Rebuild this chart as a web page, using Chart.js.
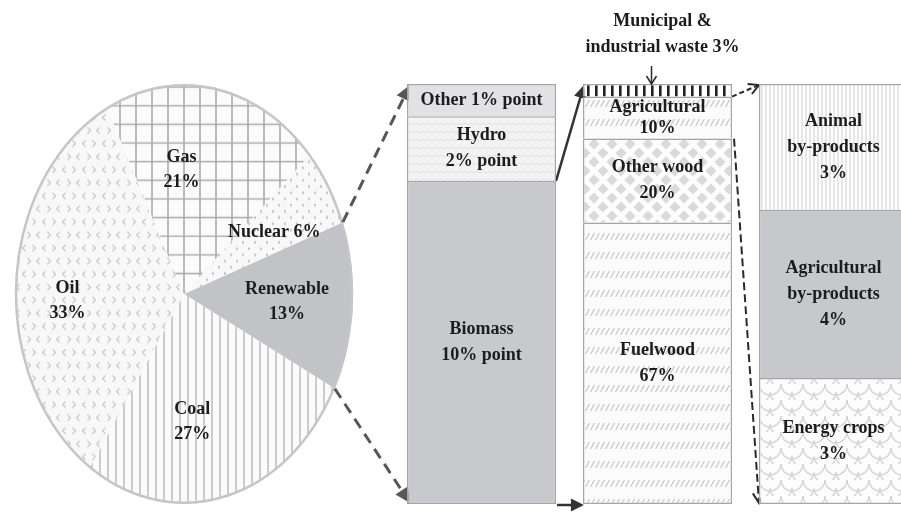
<!DOCTYPE html>
<html>
<head>
<meta charset="utf-8">
<script src="https://cdn.jsdelivr.net/npm/chart.js@4.4.1/dist/chart.umd.min.js"></script>
<style>
  html, body { margin: 0; padding: 0; background: #fff; overflow: hidden; }
  #stage { position: relative; width: 901px; height: 517px; overflow: hidden; }
  #stage canvas { position: absolute; left: 0; top: 0; }
</style>
</head>
<body>
<div id="stage">
  <canvas id="c-pie" width="370" height="517"></canvas>
  <canvas id="c-bars" width="930" height="517"></canvas>
</div>
<script>
// primary energy mix
const sourceNames = ["Renewable", "Coal", "Oil", "Gas", "Nuclear"];
const sourceShares = [13, 27, 33, 21, 6];

// renewable breakdown (percentage points), bottom to top
const renewableNames = ["Biomass", "Hydro", "Other"];
const renewableShares = [10, 2, 1];

// biomass breakdown (%), bottom to top
const biomassNames = ["Fuelwood", "Other wood", "Agricultural", "Municipal &\nindustrial waste"];
const biomassShares = [67, 20, 10, 3];

// agricultural breakdown (%), bottom to top
const agriNames = ["Energy crops", "Agricultural\nby-products", "Animal\nby-products"];
const agriShares = [3, 4, 3];

// names whose value sits on the same line
const inlineNames = ["Nuclear", "Other", "Municipal &\nindustrial waste"];

const PIE_STRETCH = 1.243;
const pieLabelRadius = [0.61, 0.61, 0.69, 0.59, 0.61];
const pieLabelTurn = [0, 10, -6, -12, 2];

const FONT = 'bold 18px "Liberation Serif", "Times New Roman", serif';
const INK = "#1c1c1c";

function labelText(name, value, unit) {
  const sep = inlineNames.includes(name) ? " " : "\n";
  return name + sep + value + unit;
}

function drawLines(ctx, text, x, y, lh) {
  const lines = text.split("\n");
  const top = y - (lines.length - 1) * lh / 2;
  lines.forEach((line, i) => ctx.fillText(line, x, top + i * lh));
}

function tile(w, h, bg, paint) {
  const c = document.createElement("canvas");
  c.width = w;
  c.height = h;
  const g = c.getContext("2d");
  g.fillStyle = bg;
  g.fillRect(0, 0, w, h);
  paint(g);
  return g.createPattern(c, "repeat");
}

// pie fills
const gasFill = tile(16, 15, "#fbfbfb", (g) => {
  g.fillStyle = "#ababab";
  g.fillRect(7.2, 0, 1.6, 15);
  g.fillRect(0, 6.9, 16, 1.2);
});
const oilFill = tile(20, 21, "#f8f8f8", (g) => {
  g.strokeStyle = "#b4b4b4";
  g.lineWidth = 1;
  const chev = (x, y, dir) => {
    g.beginPath();
    g.moveTo(x + 1.6 * dir, y - 2.4);
    g.lineTo(x - 1.6 * dir, y);
    g.lineTo(x + 1.6 * dir, y + 2.4);
    g.stroke();
  };
  chev(4, 5, 1); chev(14, 5, -1); chev(9, 15.5, -1); chev(18, 15.5, 1);
});
const nuclearFill = tile(12, 10, "#f8f8f8", (g) => {
  g.fillStyle = "#acacac";
  [[3, 2.5], [9, 7.5]].forEach(([x, y]) => {
    g.beginPath(); g.arc(x, y, 0.9, 0, Math.PI * 2); g.fill();
  });
});
const coalFill = tile(8, 8, "#fbfbfb", (g) => {
  g.fillStyle = "#acacac";
  g.fillRect(3.4, 0, 1.2, 8);
});
const renewableFill = "#c2c3c6";

// bar fills
const hydroFill = tile(12, 8, "#f3f3f3", (g) => {
  g.strokeStyle = "#e0e0e0";
  g.lineWidth = 1;
  g.beginPath(); g.moveTo(0, 5); g.lineTo(3, 3); g.lineTo(6, 5); g.lineTo(9, 3); g.lineTo(12, 5); g.stroke();
});
const wasteFill = tile(8, 8, "#fdfdfd", (g) => {
  g.fillStyle = "#222";
  g.fillRect(3, 0, 2.6, 8);
});
const slashFill = tile(5, 19, "#fbfbfb", (g) => {
  g.strokeStyle = "#c2c2c2";
  g.lineWidth = 1.1;
  g.beginPath(); g.moveTo(0.6, 12); g.lineTo(4.4, 5); g.stroke();
});
const woodFill = tile(18, 18, "#fdfdfd", (g) => {
  g.fillStyle = "#dadada";
  const dia = (x, y) => {
    g.beginPath(); g.moveTo(x, y - 5.5); g.lineTo(x + 5.5, y); g.lineTo(x, y + 5.5); g.lineTo(x - 5.5, y); g.closePath(); g.fill();
  };
  dia(9, 9); dia(0, 0); dia(18, 0); dia(0, 18); dia(18, 18);
});
const animalFill = tile(4, 4, "#fdfdfd", (g) => {
  g.fillStyle = "#d2d2d2";
  g.fillRect(1.5, 0, 1, 4);
});
const cropFill = tile(22, 16, "#fdfdfd", (g) => {
  g.strokeStyle = "#d2d2d2";
  g.lineWidth = 1.2;
  [[0, 0], [22, 0], [11, 8], [0, 16], [22, 16]].forEach(([x, y]) => {
    g.beginPath(); g.arc(x, y, 11, 0, Math.PI); g.stroke();
  });
});

// pie squashed into an ellipse, outline and labels on top
const ellipsePie = {
  id: "ellipsePie",
  beforeDatasetsDraw(chart) {
    const { x, y } = chart.getDatasetMeta(0).data[0];
    const ctx = chart.ctx;
    ctx.save();
    ctx.translate(x, y);
    ctx.scale(1, PIE_STRETCH);
    ctx.translate(-x, -y);
  },
  afterDatasetsDraw(chart) {
    const ctx = chart.ctx;
    const arcs = chart.getDatasetMeta(0).data;
    const { x, y, outerRadius } = arcs[0];
    ctx.beginPath();
    ctx.arc(x, y, outerRadius - 1, 0, Math.PI * 2);
    ctx.restore();
    ctx.lineWidth = 2.5;
    ctx.strokeStyle = "#c6c6c6";
    ctx.stroke();

    ctx.save();
    ctx.font = FONT;
    ctx.fillStyle = INK;
    ctx.textAlign = "center";
    ctx.textBaseline = "middle";
    arcs.forEach((arc, i) => {
      const a = (arc.startAngle + arc.endAngle) / 2 + pieLabelTurn[i] * Math.PI / 180;
      const r = arc.outerRadius * pieLabelRadius[i];
      drawLines(ctx, labelText(sourceNames[i], sourceShares[i], "%"),
        x + r * Math.cos(a), y + r * Math.sin(a) * PIE_STRETCH, 25);
    });
    ctx.restore();
  }
};

const pieChart = new Chart(document.getElementById("c-pie"), {
  type: "pie",
  data: {
    labels: sourceNames,
    datasets: [{
      data: sourceShares,
      backgroundColor: [renewableFill, coalFill, oilFill, gasFill, nuclearFill],
      borderWidth: 0,
      clip: false
    }]
  },
  options: {
    responsive: false,
    animation: false,
    events: [],
    rotation: 70,
    layout: { padding: { left: 15, right: 17, top: 125, bottom: 54 } },
    plugins: { legend: { display: false }, tooltip: { enabled: false } }
  },
  plugins: [ellipsePie]
});

// stacked bars: one category per breakdown, each on its own hidden value axis
function stackSets(names, values, fills, slot, axis, unit) {
  return names.map((name, i) => {
    const data = [null, null, null];
    data[slot] = values[i];
    return {
      label: name,
      data,
      slot,
      unit,
      yAxisID: axis,
      backgroundColor: fills[i],
      borderColor: "#a5a5a5",
      borderWidth: 1.5,
      borderSkipped: i === 0 ? false : "start"
    };
  });
}

const barSets = [
  ...stackSets(renewableNames, renewableShares, ["#c8c9cc", hydroFill, "#e2e2e5"], 0, "yRen", "% point"),
  ...stackSets(biomassNames, biomassShares, [slashFill, woodFill, slashFill, wasteFill], 1, "yBio", "%"),
  ...stackSets(agriNames, agriShares, [cropFill, "#c7c8cb", animalFill], 2, "yAgr", "%")
];

const sum = (arr) => arr.reduce((s, v) => s + v, 0);

function piece(chart, name) {
  const i = chart.data.datasets.findIndex((ds) => ds.label === name);
  return chart.getDatasetMeta(i).data[chart.data.datasets[i].slot];
}

function column(chart, slot) {
  const els = chart.data.datasets
    .map((ds, i) => (ds.slot === slot ? chart.getDatasetMeta(i).data[slot] : null))
    .filter(Boolean);
  const x = els[0].x;
  const w = els[0].width;
  return {
    x,
    left: x - w / 2,
    right: x + w / 2,
    top: Math.min(...els.map((e) => e.y)),
    bottom: Math.max(...els.map((e) => e.base))
  };
}

function arrow(ctx, x1, y1, x2, y2, style) {
  const ang = Math.atan2(y2 - y1, x2 - x1);
  const len = style.head || 12;
  const half = style.half || 6;
  const filled = style.filled;
  const ex = filled ? x2 - Math.cos(ang) * len * 0.8 : x2;
  const ey = filled ? y2 - Math.sin(ang) * len * 0.8 : y2;
  ctx.save();
  ctx.strokeStyle = style.color;
  ctx.fillStyle = style.color;
  ctx.lineWidth = style.width;
  ctx.setLineDash(style.dash || []);
  ctx.beginPath();
  ctx.moveTo(x1, y1);
  ctx.lineTo(ex, ey);
  ctx.stroke();
  ctx.setLineDash([]);
  const bx = x2 - Math.cos(ang) * len;
  const by = y2 - Math.sin(ang) * len;
  const px = -Math.sin(ang) * half;
  const py = Math.cos(ang) * half;
  ctx.beginPath();
  ctx.moveTo(bx + px, by + py);
  ctx.lineTo(x2, y2);
  ctx.lineTo(bx - px, by - py);
  if (filled) {
    ctx.closePath();
    ctx.fill();
  } else {
    ctx.lineWidth = style.width;
    ctx.stroke();
  }
  ctx.restore();
}

const barNotes = {
  id: "barNotes",
  beforeDatasetsDraw(chart) {
    const ctx = chart.ctx;
    const ren = pieChart.getDatasetMeta(0).data[0];
    const edge = (a) => [ren.x + ren.outerRadius * Math.cos(a), ren.y + ren.outerRadius * Math.sin(a) * PIE_STRETCH];
    const c0 = column(chart, 0);
    const c1 = column(chart, 1);
    const c2 = column(chart, 2);
    const biomass = piece(chart, "Biomass");
    const agri = piece(chart, "Agricultural");

    const wide = { color: "#575757", width: 3, dash: [11, 7], filled: true, head: 15, half: 7.5 };
    const [sx, sy] = edge(ren.startAngle);
    arrow(ctx, sx, sy, c0.left + 3, c0.top + 1, wide);
    const [ex, ey] = edge(ren.endAngle);
    arrow(ctx, ex, ey, c0.left + 3, c0.bottom - 1, wide);

    const solid = { color: "#333", width: 2.5, filled: true, head: 13, half: 6.5 };
    arrow(ctx, c0.right, biomass.y, c1.left + 1, c1.top + 1, solid);
    arrow(ctx, c0.right + 1, c0.bottom + 1, c1.left + 1, c1.bottom + 1, solid);

    const thin = { color: "#2a2a2a", width: 2, filled: false, head: 10, half: 5.5 };
    arrow(ctx, c1.right, agri.y, c2.left, c2.top + 1, { ...thin, dash: [5, 3] });
    arrow(ctx, c1.right + 2, agri.base, c2.left, c2.bottom - 1, { ...thin, dash: [8, 4] });
  },
  afterDatasetsDraw(chart) {
    const ctx = chart.ctx;
    ctx.save();
    ctx.font = FONT;
    ctx.fillStyle = INK;
    ctx.textAlign = "center";
    ctx.textBaseline = "middle";
    chart.data.datasets.forEach((ds, i) => {
      const el = chart.getDatasetMeta(i).data[ds.slot];
      const text = labelText(ds.label, ds.data[ds.slot], ds.unit);
      if (ds.label === biomassNames[3]) {
        // too thin to hold its label: call it out above the column
        const col = column(chart, ds.slot);
        drawLines(ctx, text, col.x + 5, col.top - 50, 26);
        arrow(ctx, col.x - 6, col.top - 18, col.x - 6, col.top, { color: "#2a2a2a", width: 1.5, filled: false, head: 8, half: 5 });
        return;
      }
      const h = el.base - el.y;
      const lh = Math.min(26, h / 2);
      drawLines(ctx, text, el.x, (el.y + el.base) / 2, lh);
    });
    ctx.restore();
  }
};

new Chart(document.getElementById("c-bars"), {
  type: "bar",
  data: { labels: ["Renewable", "Biomass", "Agricultural"], datasets: barSets },
  options: {
    responsive: false,
    animation: false,
    events: [],
    layout: { padding: { left: 393.5, right: 8.5, top: 84, bottom: 13 } },
    datasets: { bar: { categoryPercentage: 1, barPercentage: 0.847 } },
    scales: {
      x: { stacked: true, display: false },
      yRen: { type: "linear", position: "left", stacked: true, display: false, min: 0, max: sum(renewableShares) },
      yBio: { type: "linear", position: "left", stacked: true, display: false, min: 0, max: sum(biomassShares) },
      yAgr: { type: "linear", position: "left", stacked: true, display: false, min: 0, max: sum(agriShares) }
    },
    plugins: { legend: { display: false }, tooltip: { enabled: false } }
  },
  plugins: [barNotes]
});
</script>
</body>
</html>
